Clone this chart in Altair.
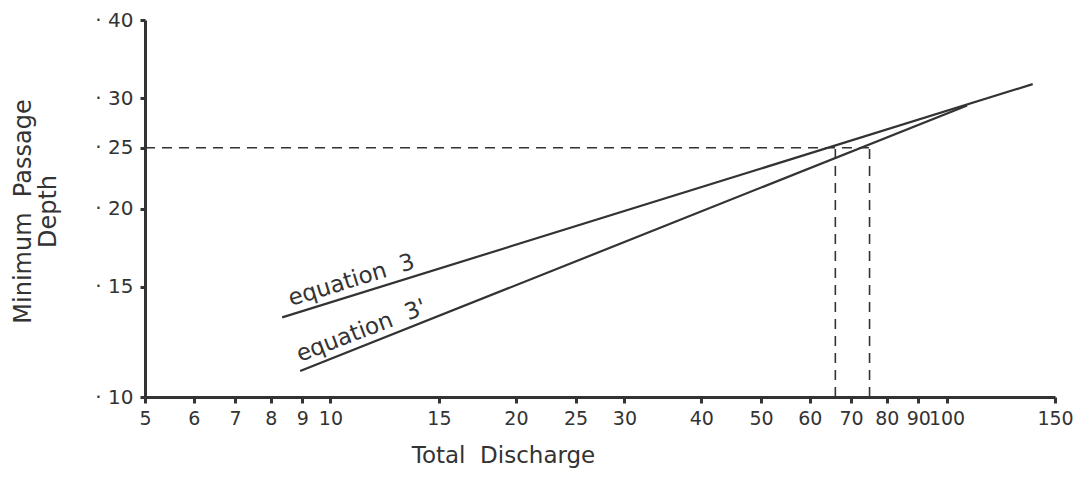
import altair as alt
import pandas as pd

# Data (log-log)
x_ticks = [5, 6, 7, 8, 9, 10, 15, 20, 25, 30, 40, 50, 60, 70, 80, 90, 100, 150]
y_ticks = [0.10, 0.15, 0.20, 0.25, 0.30, 0.40]

eq3_x = [8.35, 138]
eq3_y = [0.134, 0.316]
eq3p_x = [8.93, 108]
eq3p_y = [0.110, 0.292]

design_depth = 0.25
q_eq3 = 66
q_eq3p = 75

NB = "\u00a0"
label_names = ["equation" + NB + NB + "3", "equation" + NB + NB + "3'"]
label_x = [8.63, 8.92]
label_y = [0.1397, 0.1137]
label_angle = [343, 339]

FONT = "DejaVu Sans"
INK = "#333333"

xs = alt.Scale(type="log", domain=[5, 150], nice=False)
ys = alt.Scale(type="log", domain=[0.1, 0.4], nice=False)

lines_df = pd.DataFrame({
    "q": eq3_x + eq3p_x,
    "d": eq3_y + eq3p_y,
    "eq": ["3", "3", "3p", "3p"],
})

base_x = alt.X("q:Q", scale=xs,
               axis=alt.Axis(values=x_ticks, title="Total" + NB + NB + "Discharge", format="d",
                             labelFont=FONT, labelFontSize=19, labelColor=INK,
                             titleFont=FONT, titleFontSize=23, titleFontWeight="normal",
                             titleColor=INK, titleX=358, titleY=47, titleAnchor="middle",
                             titleAlign="center", titleBaseline="top",
                             tickSize=6, tickWidth=3, tickColor=INK, domainWidth=3,
                             domainColor=INK, grid=False, labelPadding=6,
                             labelFlush=False, labelOverlap=False))
base_y = alt.Y("d:Q", scale=ys,
               axis=alt.Axis(values=y_ticks, title=["Minimum" + NB + NB + "Passage", "Depth"],
                             labelExpr="'·" + NB + "' + substring(format(datum.value, '.2f'), 2)",
                             labelFont=FONT, labelFontSize=20, labelColor=INK,
                             titleFont=FONT, titleFontSize=24, titleFontWeight="normal",
                             titleColor=INK, titleLineHeight=25,
                             titleX=-134, titleY=191, titleAngle=270,
                             titleAlign="center", titleBaseline="top",
                             tickSize=5, tickWidth=3, tickColor=INK, domainWidth=3,
                             domainColor=INK, grid=False, labelPadding=7,
                             labelFlush=False, labelOverlap=False))

lines = alt.Chart(lines_df).mark_line(color=INK, strokeWidth=2.2).encode(
    x=base_x, y=base_y, detail="eq:N")

h_df = pd.DataFrame({"q": [5], "q2": [q_eq3p], "d": [design_depth]})
hdash = alt.Chart(h_df).mark_rule(color=INK, strokeWidth=1.6, strokeDash=[10, 7]).encode(
    x=alt.X("q:Q", scale=xs), x2="q2:Q", y=alt.Y("d:Q", scale=ys))

v_df = pd.DataFrame({"q": [q_eq3, q_eq3p], "d": [0.1, 0.1], "d2": [design_depth, design_depth]})
vdash = alt.Chart(v_df).mark_rule(color=INK, strokeWidth=1.6, strokeDash=[10, 7]).encode(
    x=alt.X("q:Q", scale=xs), y=alt.Y("d:Q", scale=ys), y2="d2:Q")

lab_df = pd.DataFrame({"t": label_names, "q": label_x, "d": label_y, "a": label_angle})
labels = alt.Chart(lab_df).mark_text(font=FONT, fontSize=23, color=INK,
                                     align="left", baseline="alphabetic").encode(
    x=alt.X("q:Q", scale=xs), y=alt.Y("d:Q", scale=ys), text="t:N",
    angle=alt.Angle("a:Q", scale=None))

chart = alt.layer(lines, hdash, vdash, labels).properties(
    width=910, height=377,
    autosize=alt.AutoSizeParams(type="none"),
    padding={"left": 137, "top": 12, "right": 20, "bottom": 80},
    background="white",
).configure_view(stroke=None)

chart.save("out.html", embed_options={"renderer": "svg", "actions": False})
